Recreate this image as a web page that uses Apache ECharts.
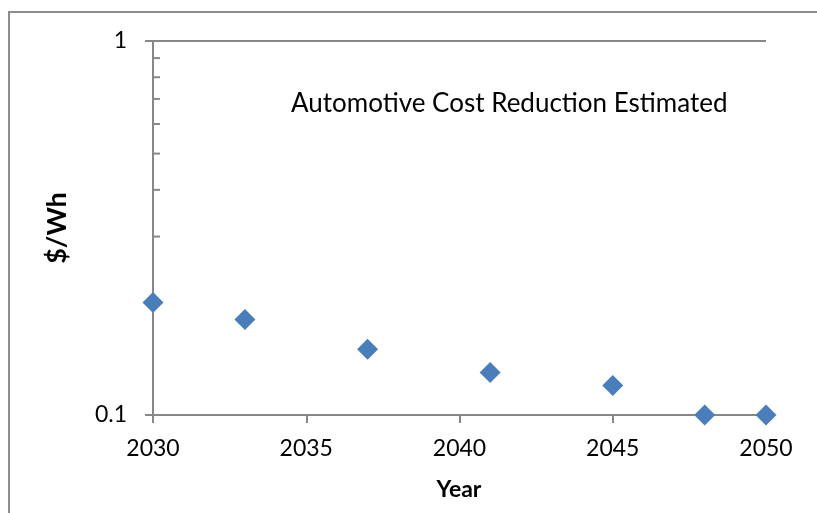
<!DOCTYPE html>
<html>
<head>
<meta charset="utf-8">
<script src="https://cdn.jsdelivr.net/npm/echarts@6/dist/echarts.min.js"></script>
<style>html,body{margin:0;padding:0;background:#fff}#c{width:817px;height:513px}</style>
</head>
<body>
<div id="c"></div>
<script>
const years = [2030, 2033, 2037, 2041, 2045, 2048, 2050];
const costs = [0.2, 0.18, 0.15, 0.13, 0.12, 0.1, 0.1];
const minorTickValues = [0.2, 0.3, 0.4, 0.5, 0.6, 0.7, 0.8, 0.9];
const chartTitle = 'Automotive Cost Reduction Estimated';
const xName = 'Year';
const yName = '$/Wh';

const FONT = 'Lato';
const AXIS = '#878787';
const chart = echarts.init(document.getElementById('c'));
chart.setOption({
  animation: false,
  backgroundColor: '#fff',
  grid: {left: 153, top: 41, right: 51, bottom: 98, containLabel: false},
  xAxis: {
    type: 'value', min: 2030, max: 2050, interval: 5,
    axisLine: {show: true, onZero: false, lineStyle: {color: AXIS, width: 2}},
    axisTick: {show: true, length: 8, inside: false, lineStyle: {color: AXIS, width: 2}},
    axisLabel: {fontFamily: FONT, fontSize: 23, color: '#000', margin: 22, formatter: v => String(v)},
    splitLine: {show: false}
  },
  yAxis: {
    type: 'log', logBase: 10, min: 0.1, max: 1,
    axisLine: {show: true, lineStyle: {color: AXIS, width: 2}},
    axisTick: {show: true, length: 8, lineStyle: {color: AXIS, width: 2}},
    axisLabel: {fontFamily: FONT, fontSize: 23, color: '#000', margin: 26,
      formatter: v => (Math.abs(v - 1) < 1e-9 ? '1' : (Math.abs(v - 0.1) < 1e-9 ? '0.1' : ''))},
    splitLine: {show: true, lineStyle: {color: AXIS, width: 2}},
    minorTick: {show: false}
  },
  graphic: [
    {type: 'rect', shape: {x: 9, y: 12, width: 1000, height: 700}, style: {fill: 'none', stroke: '#8c8c8c', lineWidth: 2}, z: -10},
    {type: 'text', x: 291, y: 104, style: {text: chartTitle, font: '26px Lato', fill: '#000', verticalAlign: 'middle'}},
    {type: 'text', x: 459, y: 490, style: {text: xName, font: 'bold 23px Lato', fill: '#000', align: 'center', verticalAlign: 'middle'}},
    {type: 'text', x: 57, y: 228, rotation: Math.PI / 2, style: {text: yName, font: 'bold 27px Lato', fill: '#000', align: 'center', verticalAlign: 'middle'}}
  ],
  series: [
    {
      type: 'custom', silent: true, clip: false, z: 1,
      data: minorTickValues.map(v => [2030, v]),
      renderItem: (params, api) => {
        const p = api.coord([api.value(0), api.value(1)]);
        return {type: 'line', shape: {x1: p[0], y1: p[1], x2: p[0] + 7, y2: p[1]}, style: {stroke: AXIS, lineWidth: 2}};
      }
    },
    {
      type: 'scatter', clip: false, z: 5,
      symbol: 'diamond', symbolSize: 21,
      itemStyle: {color: '#4a7ebb', opacity: 1},
      emphasis: {disabled: true},
      data: years.map((y, i) => [y, costs[i]])
    }
  ]
});
</script>
</body>
</html>
